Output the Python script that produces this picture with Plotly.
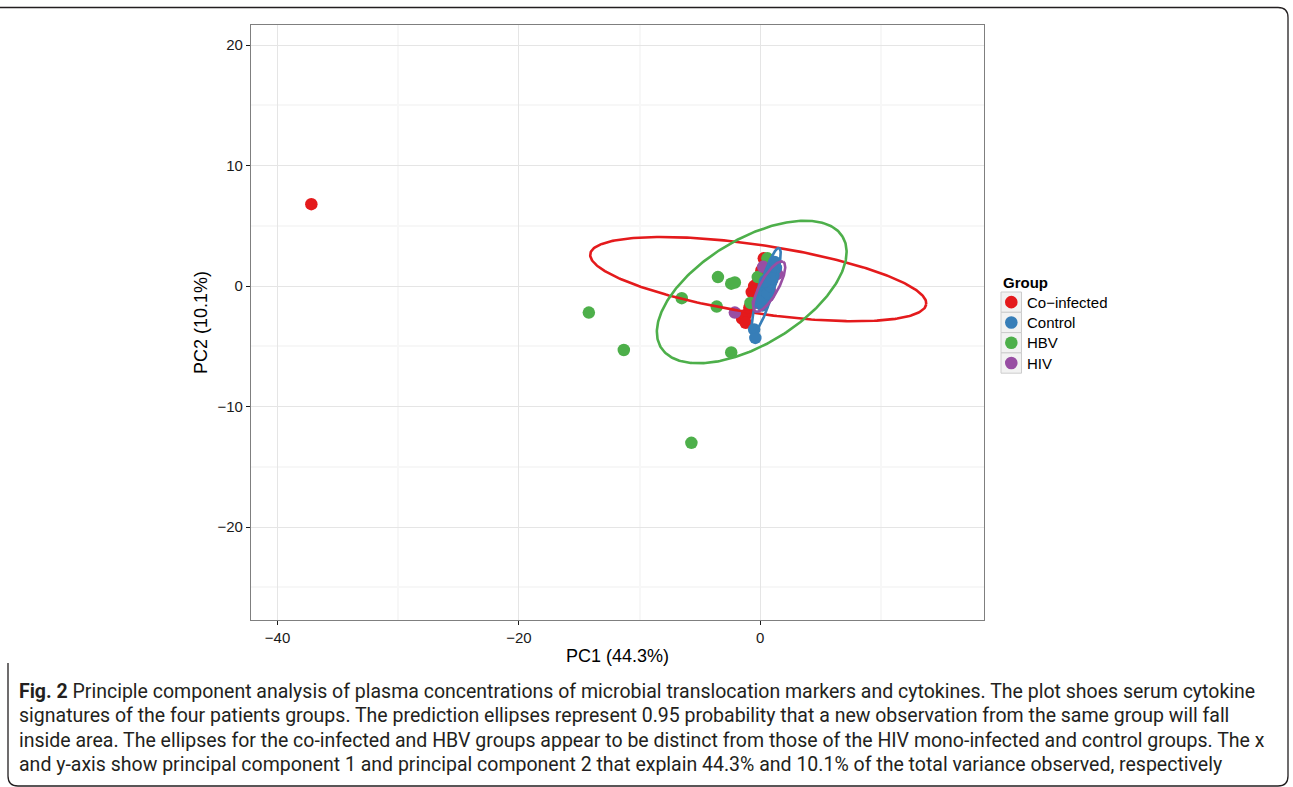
import numpy as np
import plotly.graph_objects as go

# ---------------- data ----------------
groups = ["Co\u2212infected", "Control", "HBV", "HIV"]
colors = ["#E41A1C", "#377EB8", "#4DAF4A", "#984EA3"]

coinf_x = [-37.2, 0.3, 0.1, -0.2, -0.7, -0.3, -0.9, -1.2, -1.5, -1.2, 0.0, -0.5, 0.4]
coinf_y = [6.8, 2.3, 1.3, 0.3, -0.5, -1.2, -1.8, -2.4, -2.7, -3.05, 0.8, 0.0, 1.8]

control_x = [0.2, 0.3, 0.1, 0.4, 0.5, 0.3, 0.6, 0.7, 0.8, 0.9, 1.0, 1.1, 1.2, 0.5, 0.7,
             0.9, 1.1, 0.2, 0.6, 1.3, 0.8, 1.0, -0.1, 0.4, -0.5, -0.4]
control_y = [-1.6, -1.2, -0.8, -0.5, -0.2, 0.0, 0.2, 0.5, 0.8, 1.1, 1.4, 1.7, 2.0, -0.9, -0.3,
             0.3, 0.9, -0.4, -0.6, 1.5, 0.0, 0.6, -1.3, 0.4, -3.6, -4.3]

hbv_x = [-14.2, -11.3, -5.7, -6.5, -3.5, -2.4, -2.1, -3.6, -2.4, -0.8, 0.6, 1.2, -0.2]
hbv_y = [-2.2, -5.3, -13.0, -1.0, 0.75, 0.2, 0.3, -1.7, -5.5, -1.4, 2.3, 1.9, 0.75]

hiv_x = [-2.1, 0.25, 0.7, -0.2, 1.3, 1.0, 0.5, 1.4, 0.8]
hiv_y = [-2.2, 1.6, -0.8, -1.4, 1.5, 0.5, 0.0, 1.0, -0.3]

# 95% prediction ellipses: centre, semi-axes, rotation (degrees)
ell_cx = [-0.16, 0.50, -0.70, 0.75]
ell_cy = [0.58, -0.33, -0.49, -0.04]
ell_a = [14.08, 3.65, 8.82, 2.36]
ell_b = [2.83, 0.58, 4.36, 0.75]
ell_ang = [-8.56, 73.0, 31.4, 60.7]

x_ticks = [-40, -20, 0]
y_ticks = [-20, -10, 0, 10, 20]

caption_lines = [
    "<b>Fig. 2</b> Principle component analysis of plasma concentrations of microbial translocation markers and cytokines. The plot shoes serum cytokine",
    "signatures of the four patients groups. The prediction ellipses represent 0.95 probability that a new observation from the same group will fall",
    "inside area. The ellipses for the co-infected and HBV groups appear to be distinct from those of the HIV mono-infected and control groups. The x",
    "and y-axis show principal component 1 and principal component 2 that explain 44.3% and 10.1% of the total variance observed, respectively",
]

# ---------------- layout geometry ----------------
W, H = 1293, 787
L, R, T, B = 251, 984, 25, 620


def px(xp):
    return (xp - L) / (R - L)


def py(yp):
    return (B - yp) / (B - T)


fig = go.Figure()

pts = [(coinf_x, coinf_y), (control_x, control_y), (hbv_x, hbv_y), (hiv_x, hiv_y)]
draw_order = [0, 2, 3, 1]
for i in draw_order:
    xs, ys = pts[i]
    fig.add_trace(go.Scatter(x=xs, y=ys, mode="markers", name=groups[i],
                             marker=dict(size=12.5, color=colors[i], line=dict(width=0)),
                             showlegend=False, hoverinfo="x+y+name"))

t = np.linspace(0, 2 * np.pi, 300)
for i in range(4):
    th = np.deg2rad(ell_ang[i])
    ex = ell_cx[i] + ell_a[i] * np.cos(th) * np.cos(t) - ell_b[i] * np.sin(th) * np.sin(t)
    ey = ell_cy[i] + ell_a[i] * np.sin(th) * np.cos(t) + ell_b[i] * np.cos(th) * np.sin(t)
    fig.add_trace(go.Scatter(x=ex, y=ey, mode="lines", line=dict(color=colors[i], width=2.6),
                             showlegend=False, hoverinfo="skip"))

shapes = []
annotations = []

# legend (ggplot style keys)
annotations.append(dict(x=px(1001), y=py(282), xref="paper", yref="paper", text="<b>Group</b>",
                        showarrow=False, xanchor="left", yanchor="middle",
                        font=dict(family="Liberation Sans, Arial, sans-serif", size=15, color="#000000")))
key_top = 292
key_h = 20.3
for i, g in enumerate(groups):
    y0 = key_top + i * key_h
    shapes.append(dict(type="rect", xref="paper", yref="paper",
                       x0=px(1001), x1=px(1021.5), y0=py(y0), y1=py(y0 + key_h),
                       line=dict(color="#CCCCCC", width=1), fillcolor="#F2F2F2", layer="above"))
    cx, cy = 1011.3, y0 + key_h / 2
    shapes.append(dict(type="circle", xref="paper", yref="paper",
                       x0=px(cx - 6.3), x1=px(cx + 6.3), y0=py(cy - 6.3), y1=py(cy + 6.3),
                       line=dict(width=0), fillcolor=colors[i], layer="above"))
    annotations.append(dict(x=px(1025), y=py(cy), xref="paper", yref="paper", text=g,
                            showarrow=False, xanchor="left", yanchor="middle",
                            font=dict(family="Liberation Sans, Arial, sans-serif", size=15, color="#000000")))

# caption
cap_y = [691, 715.5, 740, 764.5]
for ln, yy in zip(caption_lines, cap_y):
    annotations.append(dict(x=px(17), y=py(yy), xref="paper", yref="paper", text=ln,
                            showarrow=False, xanchor="left", yanchor="middle",
                            font=dict(family="Roboto, sans-serif", size=19.5, color="#231F20")))

# page frame
fx = lambda v: px(v)
fy = lambda v: py(v)
path = (f"M {fx(0)},{fy(7.5)} L {fx(1278)},{fy(7.5)} Q {fx(1288)},{fy(7.5)} {fx(1288)},{fy(17.5)} "
        f"L {fx(1288)},{fy(776)} Q {fx(1288)},{fy(786)} {fx(1278)},{fy(786)} "
        f"L {fx(18)},{fy(786)} Q {fx(8)},{fy(786)} {fx(8)},{fy(776)} L {fx(8)},{fy(663)}")
shapes.append(dict(type="path", xref="paper", yref="paper", path=path,
                   line=dict(color="#231F20", width=1.3)))

axis_font = dict(family="Liberation Sans, Arial, sans-serif", size=15, color="#1A1A1A")
title_font = dict(family="Liberation Sans, Arial, sans-serif", size=18, color="#000000")

fig.update_layout(
    width=W, height=H,
    margin=dict(l=L, r=W - R, t=T, b=H - B, pad=0),
    paper_bgcolor="white", plot_bgcolor="white",
    shapes=shapes, annotations=annotations,
    showlegend=False,
    xaxis=dict(range=[-42.2, 18.55], tickvals=x_ticks, ticks="outside", ticklen=4, tickwidth=1.2,
               tickcolor="#1A1A1A", tickfont=axis_font, showgrid=True, gridcolor="#E5E5E5", gridwidth=1,
               zeroline=False, showline=True, linecolor="#7F7F7F", linewidth=1.2, mirror=True,
               minor=dict(tickvals=[-30, -10, 10], showgrid=True, gridcolor="#F7F7F7", gridwidth=1.5, ticks=""),
               title=dict(text="PC1 (44.3%)", font=title_font, standoff=4)),
    yaxis=dict(range=[-27.7, 21.66], tickvals=y_ticks, ticks="outside", ticklen=4, tickwidth=1.2,
               tickcolor="#1A1A1A", tickfont=axis_font, showgrid=True, gridcolor="#E5E5E5", gridwidth=1,
               zeroline=False, showline=True, linecolor="#7F7F7F", linewidth=1.2, mirror=True,
               minor=dict(tickvals=[-25, -15, -5, 5, 15], showgrid=True, gridcolor="#F7F7F7", gridwidth=1.5, ticks=""),
               title=dict(text="PC2 (10.1%)", font=title_font, standoff=5)),
)

fig.write_html("out.html", config={"displayModeBar": False},
               post_script="document.body.style.margin='0px';document.body.style.overflow='hidden';")
